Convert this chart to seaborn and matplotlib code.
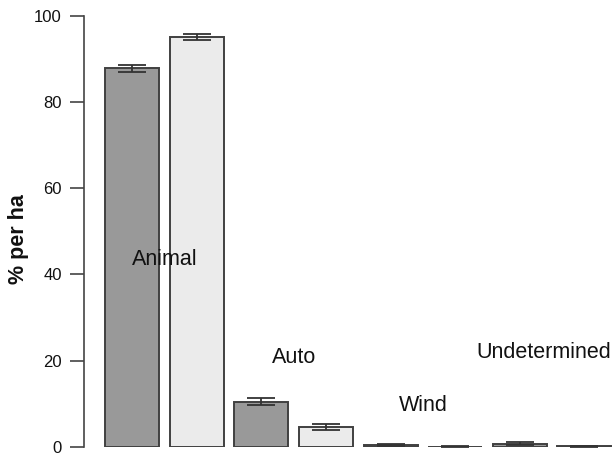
import matplotlib
matplotlib.use("Agg")
import matplotlib.pyplot as plt
import seaborn as sns
import pandas as pd

# ---- data ----
categories = ["Animal", "Auto", "Wind", "Undetermined"]
groups = ["Group 1", "Group 2"]
values_g1 = [87.8, 10.5, 0.55, 0.75]
values_g2 = [95.0, 4.55, 0.10, 0.20]
err_g1 = [0.75, 0.75, 0.25, 0.30]
err_g2 = [0.75, 0.70, 0.05, 0.10]
label_y = [42.2, 19.5, 8.3, 20.7]
yticks = [0, 20, 40, 60, 80, 100]

df = pd.DataFrame({
    "category": categories * 2,
    "group": [groups[0]] * 4 + [groups[1]] * 4,
    "value": values_g1 + values_g2,
})

sns.set_theme(style="white")
plt.rcParams["font.family"] = ["Liberation Sans", "DejaVu Sans"]

fig = plt.figure(figsize=(6.15, 4.57), dpi=100)
ax = fig.add_axes([84 / 615, 10 / 457, 531 / 615, 431.3 / 457])

sns.barplot(data=df, x="category", y="value", hue="group", order=categories,
            hue_order=groups, palette={groups[0]: "#999999", groups[1]: "#ebebeb"},
            width=1.0, gap=0.165, errorbar=None, edgecolor="#404040",
            linewidth=1.4, legend=False, ax=ax)

# error bars positioned on the drawn bars
bars = sorted([p for p in ax.patches if p.get_width() > 0], key=lambda p: p.get_x())
errs = [e for pair in zip(err_g1, err_g2) for e in pair]
vals = [v for pair in zip(values_g1, values_g2) for v in pair]
xs = [p.get_x() + p.get_width() / 2 for p in bars]
ax.errorbar(xs, vals, yerr=errs, fmt="none", ecolor="#333333",
            elinewidth=1.3, capsize=10, capthick=1.3, zorder=5)

# category labels (last one nudged left so it stays inside the figure)
label_dx = [0, 0, 0, -0.065]
for i, (name, y) in enumerate(zip(categories, label_y)):
    ax.text(i + label_dx[i], y, name, ha="center", va="baseline",
            fontsize=15.5, color="#111111")

ax.set_xlim(-0.621, 3.486)
ax.set_ylim(0, 100)
ax.set_yticks(yticks)
ax.set_yticklabels([str(t) for t in yticks], fontsize=12, color="#111111")
ax.set_xticks([])
ax.set_xlabel("")
ax.set_ylabel("% per ha", fontsize=15.5, fontweight="bold", color="#111111")
ax.yaxis.set_label_coords(-0.103, 0.483)

for s in ["top", "right", "bottom"]:
    ax.spines[s].set_visible(False)
ax.spines["left"].set_bounds(0, 100)
ax.spines["left"].set_color("#444444")
ax.spines["left"].set_linewidth(1.2)
ax.tick_params(axis="y", left=True, direction="out", length=10, width=1.2,
               color="#444444", pad=6)

fig.savefig("out.png", dpi=100)
